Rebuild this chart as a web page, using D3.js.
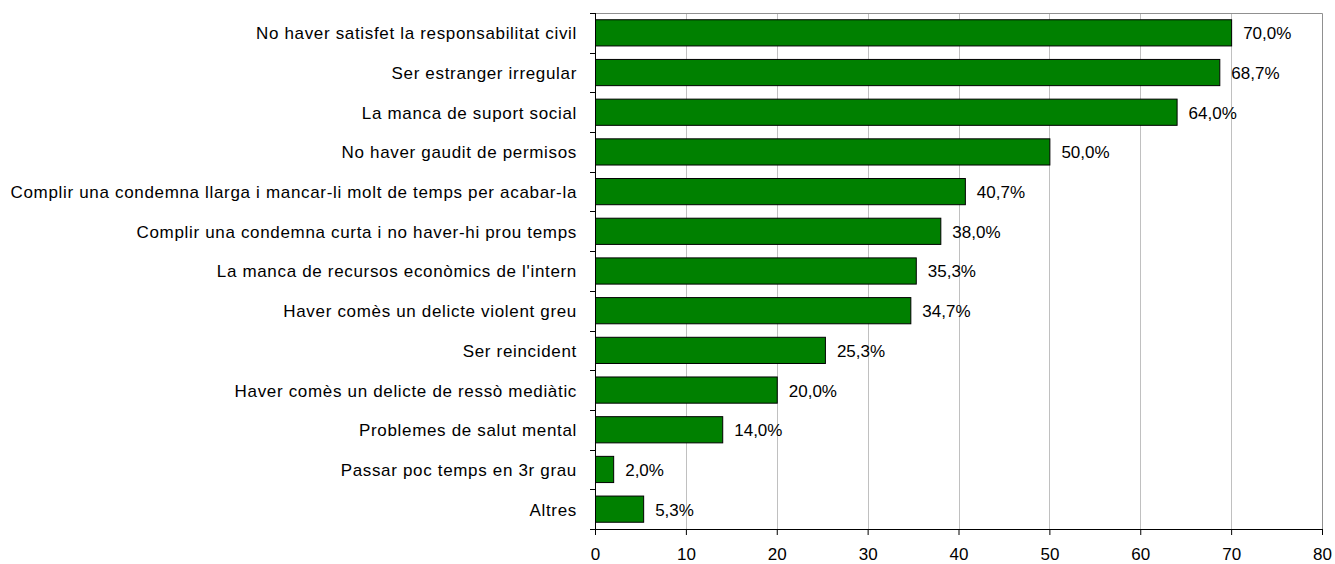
<!DOCTYPE html>
<meta charset="utf-8">
<script src="https://d3js.org/d3.v7.min.js"></script>
<style>
  body { margin: 0; background: #fff; overflow: hidden; }
  text { font-family: "Liberation Sans", Arial, sans-serif; fill: #000; }
</style>
<div id="chart"></div>
<script>
  // Data
  var categories = [
    "No haver satisfet la responsabilitat civil",
    "Ser estranger irregular",
    "La manca de suport social",
    "No haver gaudit de permisos",
    "Complir una condemna llarga i mancar-li molt de temps per acabar-la",
    "Complir una condemna curta i no haver-hi prou temps",
    "La manca de recursos econòmics de l'intern",
    "Haver comès un delicte violent greu",
    "Ser reincident",
    "Haver comès un delicte de ressò mediàtic",
    "Problemes de salut mental",
    "Passar poc temps en 3r grau",
    "Altres"
  ];
  var values = [70.0, 68.7, 64.0, 50.0, 40.7, 38.0, 35.3, 34.7, 25.3, 20.0, 14.0, 2.0, 5.3];
  var xTicks = [0, 10, 20, 30, 40, 50, 60, 70, 80];

  var margin = {top: 13, right: 13, bottom: 35, left: 595},
      width = 1335 - margin.left - margin.right,
      height = 564 - margin.top - margin.bottom;

  var svg = d3.select("#chart")
    .append("svg")
      .attr("width", 1335)
      .attr("height", 564)
      .style("display", "block")
    .append("g")
      .attr("transform", "translate(" + margin.left + "," + margin.top + ")");

  var x = d3.scaleLinear().domain([0, 80]).range([0, width]);
  var y = d3.scaleBand().domain(categories).range([0, height]).paddingInner(0.34).paddingOuter(0.17);

  // gridlines
  svg.append("g")
    .selectAll("line")
    .data(xTicks.slice(1, -1))
    .enter()
    .append("line")
      .attr("x1", function(d) { return Math.round(x(d)) + 0.5 })
      .attr("x2", function(d) { return Math.round(x(d)) + 0.5 })
      .attr("y1", 0)
      .attr("y2", height)
      .attr("stroke", "#c0c0c0")
      .attr("stroke-width", 1);

  // plot frame (top and right)
  svg.append("path")
    .attr("d", "M0,0.5H" + (width + 0.5) + "V" + height)
    .attr("fill", "none")
    .attr("stroke", "#909090");

  // bars
  svg.append("g")
    .selectAll("rect")
    .data(values)
    .enter()
    .append("rect")
      .attr("x", x(0) + 0.5)
      .attr("y", function(d, i) { return y(categories[i]) })
      .attr("width", function(d) { return x(d) - x(0) })
      .attr("height", y.bandwidth())
      .attr("fill", "#008000")
      .attr("stroke", "#000")
      .attr("stroke-width", 1);

  // value labels
  svg.append("g")
    .selectAll("text")
    .data(values)
    .enter()
    .append("text")
      .attr("x", function(d) { return x(d) + 12 })
      .attr("y", function(d, i) { return y(categories[i]) + y.bandwidth() / 2 })
      .attr("dy", "0.38em")
      .style("font-size", "17px")
      .text(function(d) { return d.toFixed(1).replace(".", ",") + "%" });

  // x axis
  var xAxis = svg.append("g")
    .attr("transform", "translate(0," + height + ")")
    .call(d3.axisBottom(x).tickValues(xTicks).tickSize(6).tickPadding(13));
  xAxis.selectAll("text").style("font-size", "17px").attr("font-family", null);
  xAxis.selectAll("line").attr("stroke", "#000");
  xAxis.select(".domain").attr("stroke", "#000").attr("d", "M0.5,0.5H" + (width + 0.5));

  // y axis: ticks between categories
  var boundaries = d3.range(categories.length + 1).map(function(i) { return i * height / categories.length });
  var yAxis = svg.append("g");
  yAxis.append("line")
    .attr("x1", 0.5).attr("x2", 0.5)
    .attr("y1", 0).attr("y2", height)
    .attr("stroke", "#000");
  yAxis.selectAll(".tk")
    .data(boundaries)
    .enter()
    .append("line")
      .attr("class", "tk")
      .attr("x1", -5).attr("x2", 0)
      .attr("y1", function(d) { return Math.round(d) + 0.5 })
      .attr("y2", function(d) { return Math.round(d) + 0.5 })
      .attr("stroke", "#000");
  yAxis.selectAll(".lbl")
    .data(categories)
    .enter()
    .append("text")
      .attr("class", "lbl")
      .attr("x", -18)
      .attr("y", function(d) { return y(d) + y.bandwidth() / 2 })
      .attr("dy", "0.38em")
      .attr("text-anchor", "end")
      .style("font-size", "17px")
      .style("letter-spacing", "0.67px")
      .text(function(d) { return d });
</script>
